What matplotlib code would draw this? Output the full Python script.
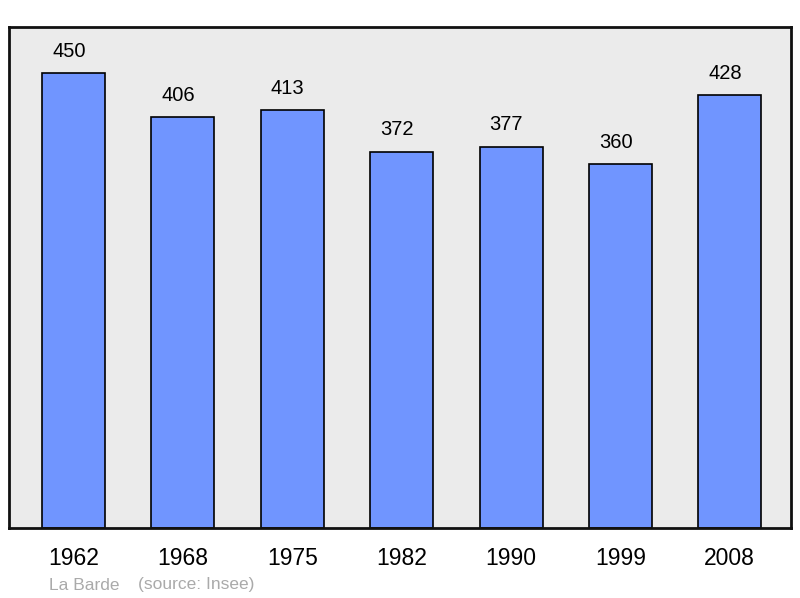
import numpy as np
import matplotlib.pyplot as plt

plt.rcParams["font.family"] = ["Liberation Sans", "DejaVu Sans"]

# population data
years = ["1962", "1968", "1975", "1982", "1990", "1999", "2008"]
population = [450, 406, 413, 372, 377, 360, 428]
commune = "La Barde"
source = "(source: Insee)"

W, H = 800, 598
fig = plt.figure(figsize=(W / 100, H / 100), dpi=100)
ax = fig.add_axes([9 / W, (H - 528) / H, 782 / W, 501 / H])
ax.set_facecolor("#ebebeb")

x = np.arange(len(years))
bars = ax.bar(x, population, width=0.576, color="#7095ff",
              edgecolor="black", linewidth=1.2, zorder=2)

for xi, v in zip(x, population):
    ax.annotate(str(v), (xi, v), xytext=(-3.3, 9), textcoords="offset points",
                ha="center", va="bottom", fontsize=14.5, color="black")

ax.set_xlim(-0.59, 6.56)
ax.set_ylim(0, 495.5)
ax.set_xticks(x)
ax.set_xticklabels(years, fontsize=16.5)
ax.tick_params(axis="x", length=0, pad=14)
ax.set_yticks([])
for s in ax.spines.values():
    s.set_linewidth(2)
    s.set_color("#111111")

fig.text(49 / W, 1 - 585 / H, commune, fontsize=12.5, color="#aaaaaa",
         ha="left", va="center")
fig.text(138 / W, 1 - 585 / H, source, fontsize=12.5, color="#aaaaaa",
         ha="left", va="center")

fig.savefig("out.png", dpi=100)
